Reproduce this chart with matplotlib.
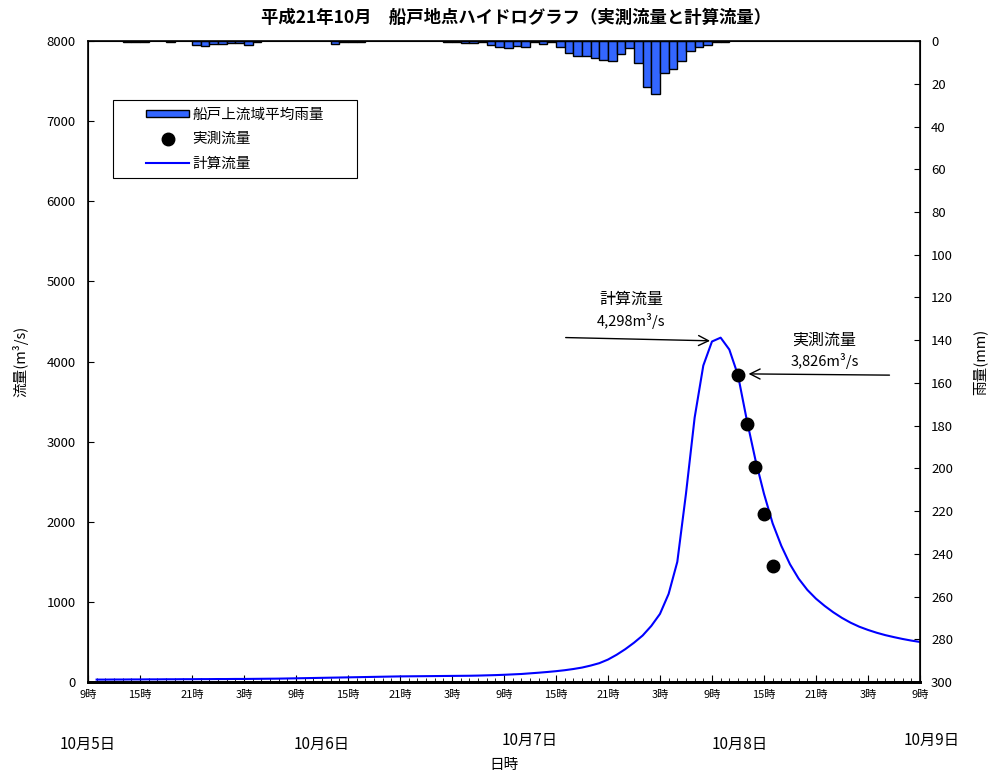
import numpy as np
import matplotlib
matplotlib.use('Agg')
import matplotlib.pyplot as plt
from matplotlib.patches import Rectangle

plt.rcParams['font.family'] = ['Noto Sans CJK JP', 'DejaVu Sans']

# hours counted from 10/5 9:00
flow_hours = list(range(1, 97))
calc_flow = [30, 30, 31, 31, 32, 32, 33, 33, 34, 34,
             35, 35, 36, 36, 37, 37, 38, 38, 39, 40,
             41, 42, 44, 46, 48, 50, 52, 54, 56, 58,
             60, 62, 64, 66, 68, 70, 71, 72, 73, 74,
             75, 76, 77, 78, 80, 83, 86, 90, 95, 100,
             108, 116, 125, 135, 147, 162, 180, 205, 235, 280,
             340, 410, 490, 580, 700, 850, 1100, 1500, 2350, 3300,
             3950, 4250, 4298, 4150, 3830, 3280, 2780, 2350, 1980, 1700,
             1470, 1290, 1150, 1040, 950, 870, 800, 740, 690, 650,
             615, 585, 560, 537, 517, 500]

obs_hours = [75, 76, 77, 78, 79]
obs_flow = [3826, 3221, 2684, 2097, 1448]

rain_hours = [4, 5, 6, 9, 12, 13, 14, 15, 16, 17, 18, 19, 28, 29, 30, 31,
              41, 42, 43, 44, 45, 46, 47, 48, 49, 50, 51, 52, 53, 54, 55,
              56, 57, 58, 59, 60, 61, 62, 63, 64, 65, 66, 67, 68, 69, 70,
              71, 72, 73]
rain = [0.3, 0.3, 0.3, 0.5, 1.9, 2.3, 1.6, 1.2, 0.8, 0.8, 1.9, 0.5, 1.4, 0.3, 0.2, 0.2,
        0.3, 0.4, 1.0, 1.0, 0.5, 1.9, 2.6, 3.1, 2.2, 2.6, 0.5, 1.2, 0.3, 3.0, 5.8,
        6.9, 6.9, 7.8, 8.9, 9.2, 6.2, 3.4, 10.4, 21.4, 24.8, 15.1, 13.1, 9.2, 4.5, 2.6,
        1.7, 0.5, 0.3]

tick_hours = list(range(0, 97, 6))
tick_labels = ['9時', '15時', '21時', '3時'] * 4 + ['9時']
date_labels = ['10月5日', '10月6日', '10月7日', '10月8日', '10月9日']
date_pos = [0, 27, 51, 75.2, 97.4]
date_y = [-0.098, -0.098, -0.091, -0.098, -0.091]

fig = plt.figure(figsize=(9.95, 7.75), dpi=100)
ax = fig.add_axes([0.0884, 0.12, 0.8362, 0.827])
ax2 = ax.twinx()

# rainfall hangs from the top on the right axis
bars = ax2.bar(np.array(rain_hours) + 0.5, rain, width=1.0, color='#3366ff',
               edgecolor='black', linewidth=1.0)
ax2.set_ylim(300, 0)
ax2.set_yticks(range(0, 301, 20))
ax2.tick_params(axis='y', direction='in', labelsize=9.5, length=4, pad=8)
ax2.set_ylabel('雨量(mm)', fontsize=10.5, labelpad=14)

line, = ax.plot(flow_hours, calc_flow, color='#0000ff', lw=1.5)
pts, = ax.plot(obs_hours, obs_flow, 'o', color='black', ms=9)
ax.set_zorder(ax2.get_zorder() + 1)
ax.patch.set_visible(False)

ax.set_xlim(0, 96)
ax.set_ylim(0, 8000)
ax.set_yticks(range(0, 8001, 1000))
ax.set_xticks(tick_hours)
ax.set_xticklabels(tick_labels, fontsize=8)
ax.set_xticks(range(0, 97), minor=True)
ax.tick_params(axis='x', which='major', direction='in', length=5, pad=6)
ax.tick_params(axis='x', which='minor', direction='in', length=3)
ax.tick_params(axis='y', direction='in', labelsize=9.5, length=4, pad=9)
ax.set_ylabel('流量(m³/s)', fontsize=10.5, labelpad=13)
for sp in ax.spines.values():
    sp.set_linewidth(1.2)
ax.spines['bottom'].set_linewidth(2)
ax2.spines['bottom'].set_linewidth(2)

for lab, xp, yp in zip(date_labels, date_pos, date_y):
    ax.text(xp, yp, lab, transform=ax.get_xaxis_transform(), ha='center',
            va='center', fontsize=11)
ax.text(48, -0.129, '日時', transform=ax.get_xaxis_transform(), ha='center',
        va='center', fontsize=10.5)

# peak annotations
peak_i = int(np.argmax(calc_flow))
ax.annotate('', xy=(flow_hours[peak_i] - 0.9, calc_flow[peak_i] - 40),
            xytext=(54.8, 4300),
            arrowprops=dict(arrowstyle='->', color='black', lw=1, mutation_scale=18))
ax.text(62.7, 4780, '計算流量', ha='center', va='center', fontsize=11.5)
ax.text(62.7, 4500, f'{calc_flow[peak_i]:,}m³/s', ha='center', va='center', fontsize=10.5)

ax.annotate('', xy=(obs_hours[0] + 0.9, obs_flow[0] + 20),
            xytext=(92.8, 3830),
            arrowprops=dict(arrowstyle='->', color='black', lw=1, mutation_scale=18))
ax.text(85, 4260, '実測流量', ha='center', va='center', fontsize=11.5)
ax.text(85, 4010, f'{obs_flow[0]:,}m³/s', ha='center', va='center', fontsize=10.5)

# legend box drawn separately, entries centred inside it
ax.add_patch(Rectangle((0.030, 0.786), 0.293, 0.122, transform=ax.transAxes,
                       facecolor='white', edgecolor='black', lw=0.8, zorder=4))
leg = ax.legend([bars, pts, line], ['船戸上流域平均雨量', '実測流量', '計算流量'],
                loc='center', bbox_to_anchor=(0.1765, 0.847), frameon=False,
                fontsize=10.5, handlelength=3.0, handleheight=0.4,
                handletextpad=0.2, labelspacing=0.7, borderpad=0)
leg.set_zorder(5)

fig.text(0.519, 0.977, '平成21年10月　船戸地点ハイドログラフ（実測流量と計算流量）',
         ha='center', va='center', fontsize=12.5, fontweight='bold')

fig.savefig('out.png', dpi=100)
